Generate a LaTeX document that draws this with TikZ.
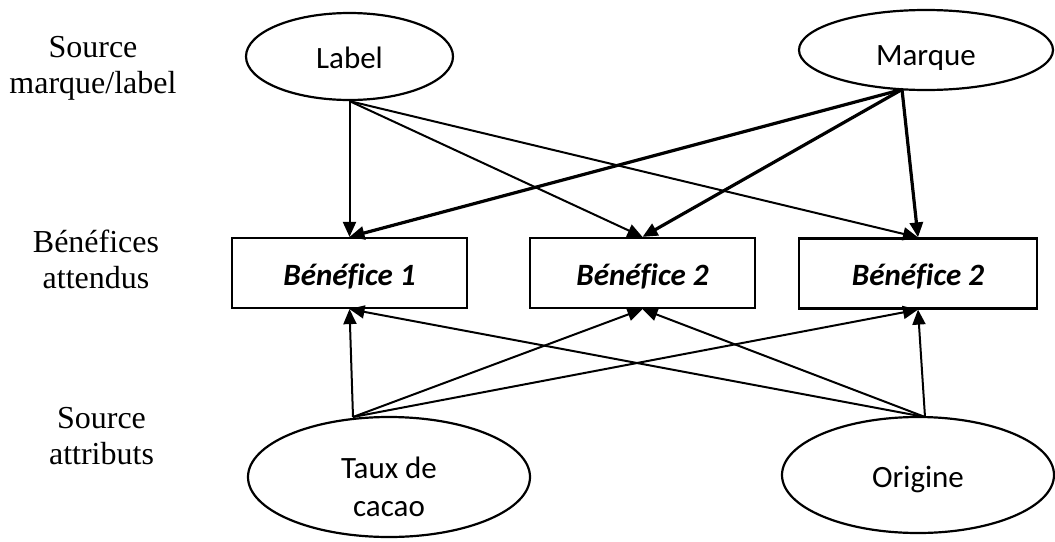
\documentclass[tikz,border=0pt]{standalone}
\usepackage{fontspec}
\setmainfont{Liberation Serif}
\newfontfamily\calfont[Ligatures={NoCommon}]{Carlito}
\usetikzlibrary{arrows.meta,shapes.geometric}
\newcommand{\lowr}[2]{\raisebox{-#1}[0pt][0pt]{#2}}
\begin{document}
\begin{tikzpicture}[x=1pt,y=-1pt,
  ell/.style={ellipse, draw, line width=2.2pt, inner sep=0pt, font=\calfont\fontsize{31}{38}\selectfont},
  ben/.style={rectangle, draw, line width=2.2pt, inner sep=0pt, minimum height=70pt, font=\calfont\bfseries\itshape\fontsize{31}{38}\selectfont},
  side/.style={inner sep=0pt, font=\fontsize{32}{36}\selectfont},
  thinarrow/.style={line width=2pt, -{Triangle[length=15pt,width=13pt]}},
  thickarrow/.style={line width=3.2pt, -{Triangle[length=15pt,width=13pt]}}
]
\useasboundingbox (0,0) rectangle (1055,541);

% side labels
\node[side] (s1) at (93,57) {\lowr{0pt}{\begin{tabular}[t]{@{}c@{}}Source\\marque/label\end{tabular}}};
\node[side] (s2) at (96,252) {\lowr{0pt}{\begin{tabular}[t]{@{}c@{}}Bénéfices\\attendus\end{tabular}}};
\node[side] (s3) at (101.5,428) {\lowr{0pt}{\begin{tabular}[t]{@{}c@{}}Source\\attributs\end{tabular}}};

% sources
\node[ell, minimum width=207pt, minimum height=87pt] (label) at (349.5,56.5) {\lowr{11.5pt}{Label}};
\node[ell, minimum width=254pt, minimum height=80pt] (marque) at (926,50) {\lowr{15pt}{Marque}};
\node[ell, minimum width=282pt, minimum height=120pt] (taux) at (389,477) {\lowr{1pt}{\begin{tabular}[t]{@{}c@{}}Taux de\\cacao\end{tabular}}};
\node[ell, minimum width=272pt, minimum height=116pt] (origine) at (918,475) {\lowr{12pt}{Origine}};

% benefits
\node[ben, minimum width=235pt] (b1) at (349.5,273) {\lowr{12pt}{Bénéfice 1}};
\node[ben, minimum width=225pt] (b2) at (642.5,273) {\lowr{12pt}{Bénéfice 2}};
\node[ben, minimum width=238pt] (b3) at (918,273.5) {\lowr{12pt}{Bénéfice 2}};

\coordinate (ms) at (902,89.5);
\coordinate (ts) at (353,417);
\coordinate (os) at (925,417);

\draw[thinarrow] (label.south) -- (b1.north);
\draw[thinarrow] (label.south) -- (b2.north);
\draw[thinarrow] (label.south) -- (b3.north);
\draw[thickarrow] (ms) -- (b1.north);
\draw[thickarrow] (ms) -- (b2.north);
\draw[thickarrow] (ms) -- (b3.north);
\draw[thinarrow] (ts) -- (b1.south);
\draw[thinarrow] (ts) -- (b2.south);
\draw[thinarrow] (ts) -- (b3.south);
\draw[thinarrow] (os) -- (b1.south);
\draw[thinarrow] (os) -- (b2.south);
\draw[thinarrow] (os) -- (b3.south);
\end{tikzpicture}
\end{document}
